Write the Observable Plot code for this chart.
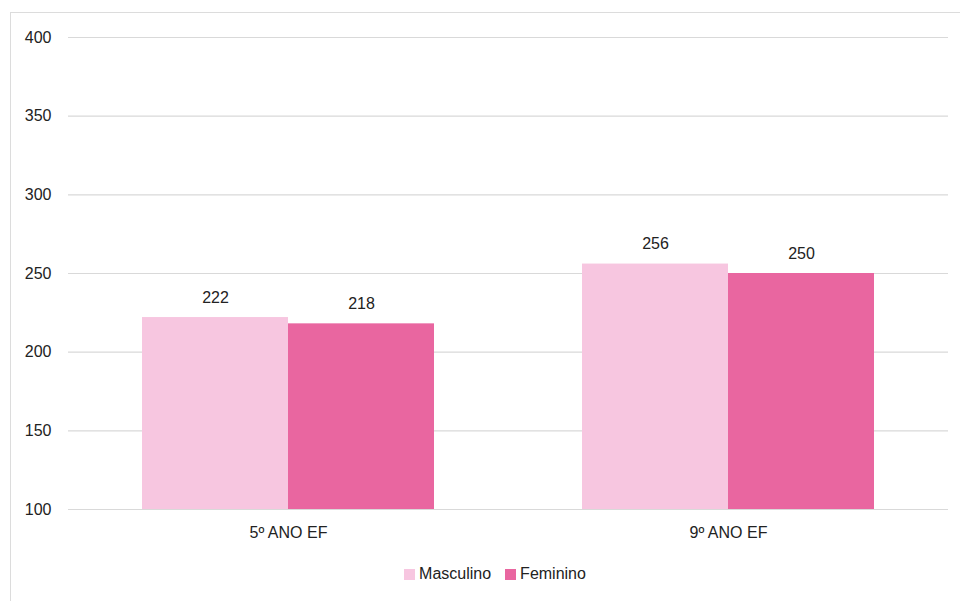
<!DOCTYPE html>
<html>
<head>
<meta charset="utf-8">
<script src="https://cdn.jsdelivr.net/npm/d3@7"></script>
<script src="https://cdn.jsdelivr.net/npm/@observablehq/plot@0.6"></script>
<style>
  html, body { margin: 0; padding: 0; background: #fff; }
  body { width: 960px; height: 601px; position: relative; overflow: hidden; font-family: "Liberation Sans", Arial, sans-serif; }
  #frame { position: absolute; left: 10px; top: 12px; width: 980px; height: 620px; border: 1.5px solid #dcdcdc; box-sizing: border-box; }
  #chart { position: absolute; left: 0; top: 0; }
  #legend { position: absolute; top: 565px; left: 0; width: 990px; display: flex; justify-content: center; gap: 14px; font-size: 16px; line-height: 18px; color: #222; }
  #legend span.item { display: flex; align-items: center; gap: 4px; }
  #legend span.sw { display: inline-block; width: 11px; height: 11px; }
</style>
</head>
<body>
<div id="frame"></div>
<div id="chart"></div>
<div id="legend"></div>
<script>
const categories = ["5º ANO EF", "9º ANO EF"];
const series = ["Masculino", "Feminino"];
const masculino = [222, 256];
const feminino = [218, 250];
const colors = ["#F7C6E0", "#E966A0"];
const yTicks = [100, 150, 200, 250, 300, 350, 400];

const data = [];
categories.forEach((c, i) => {
  data.push({category: c, serie: series[0], value: masculino[i]});
  data.push({category: c, serie: series[1], value: feminino[i]});
});

const chart = Plot.plot({
  width: 960,
  height: 560,
  marginLeft: 67,
  marginRight: 12,
  marginTop: 37,
  marginBottom: 51,
  style: {fontFamily: "'Liberation Sans', Arial, sans-serif", fontSize: "16px", color: "#222", background: "transparent"},
  fx: {domain: categories, padding: 0, label: null, axis: "bottom", tickSize: 0, tickPadding: 17},
  x: {domain: series, paddingInner: 0, paddingOuter: 0.497, axis: null},
  y: {domain: [100, 400], ticks: yTicks, label: null, tickSize: 0, tickPadding: 17},
  color: {domain: series, range: colors},
  marks: [
    Plot.gridY(yTicks, {stroke: "#d9d9d9", strokeOpacity: 1, strokeWidth: 1.2}),
    Plot.barY(data, {fx: "category", x: "serie", y1: 100, y2: "value", fill: "serie"}),
    Plot.text(data, {fx: "category", x: "serie", y: "value", text: d => String(d.value), dy: -20, fill: "#222", fontSize: 16})
  ]
});
document.getElementById("chart").appendChild(chart);

const legend = document.getElementById("legend");
series.forEach((s, i) => {
  const item = document.createElement("span");
  item.className = "item";
  const sw = document.createElement("span");
  sw.className = "sw";
  sw.style.background = colors[i];
  const label = document.createElement("span");
  label.textContent = s;
  item.appendChild(sw);
  item.appendChild(label);
  legend.appendChild(item);
});
</script>
</body>
</html>
